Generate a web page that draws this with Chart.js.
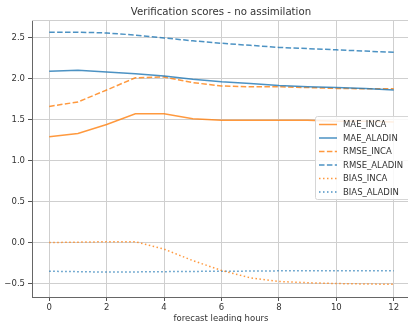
<!DOCTYPE html>
<html><head><meta charset="utf-8">
<script src="https://cdn.jsdelivr.net/npm/chart.js@4/dist/chart.umd.min.js"></script>
<style>
html,body{margin:0;padding:0;background:#fff;overflow:hidden;width:408px;height:322px;}
#wrap{width:412px;height:322px;}
</style></head><body>
<div id="wrap"><canvas id="c" width="412" height="322"></canvas></div>
<script>
const hours = [0,1,2,3,4,5,6,7,8,9,10,11,12];
const maeInca    = [1.29,1.33,1.44,1.57,1.57,1.51,1.49,1.49,1.49,1.49,1.48,1.48,1.47];
const maeAladin  = [2.09,2.10,2.08,2.06,2.03,1.99,1.96,1.94,1.915,1.90,1.89,1.88,1.86];
const rmseInca   = [1.66,1.715,1.86,2.01,2.02,1.95,1.91,1.90,1.90,1.89,1.88,1.875,1.875];
const rmseAladin = [2.566,2.566,2.556,2.53,2.495,2.46,2.43,2.405,2.38,2.365,2.35,2.335,2.32];
const biasInca   = [0.0,0.005,0.01,0.01,-0.08,-0.22,-0.34,-0.43,-0.475,-0.49,-0.50,-0.505,-0.51];
const biasAladin = [-0.35,-0.355,-0.36,-0.358,-0.355,-0.352,-0.35,-0.348,-0.345,-0.345,-0.345,-0.345,-0.345];
const seriesNames = ['MAE_INCA','MAE_ALADIN','RMSE_INCA','RMSE_ALADIN','BIAS_INCA','BIAS_ALADIN'];
const xTicks = [0,2,4,6,8,10,12];
const yTicks = [-0.5,0.0,0.5,1.0,1.5,2.0,2.5];
const titleText = 'Verification scores - no assimilation';
const xLabel = 'forecast leading hours';

const ORANGE = 'rgba(255,127,14,0.8)', BLUE = 'rgba(31,119,180,0.8)';
const DASH = [5.5,2.4], DOT = [1.5,2.5];
const allSeries = [maeInca, maeAladin, rmseInca, rmseAladin, biasInca, biasAladin];
const styles = [
  {c:ORANGE,d:[]},{c:BLUE,d:[]},{c:ORANGE,d:DASH},{c:BLUE,d:DASH},{c:ORANGE,d:DOT},{c:BLUE,d:DOT}
];
const datasets = allSeries.map((arr,i)=>({
  label: seriesNames[i],
  data: hours.map((h,j)=>({x:h,y:arr[j]})),
  borderColor: styles[i].c,
  backgroundColor: styles[i].c,
  borderDash: styles[i].d,
  borderWidth: 1.5,
  pointRadius: 0,
  tension: 0,
  fill: false
}));

const FONT = 'DejaVu Sans';
const TXT = '#333';

const deco = {
  id:'deco',
  afterDatasetsDraw(chart){
    const ctx = chart.ctx, a = chart.chartArea;
    ctx.save();
    ctx.strokeStyle = '#cfcfcf'; ctx.lineWidth = 1;
    ctx.beginPath(); ctx.moveTo(a.left, a.top+0.5); ctx.lineTo(a.right, a.top+0.5); ctx.stroke();
    const lx = 315.5, ly = 116.5, lw = 100, lh = 83;
    ctx.fillStyle = 'rgba(255,255,255,0.85)';
    ctx.strokeStyle = '#d6d6d6';
    ctx.beginPath();
    if (ctx.roundRect) ctx.roundRect(lx, ly, lw, lh, 2); else ctx.rect(lx,ly,lw,lh);
    ctx.fill(); ctx.stroke();
    ctx.font = '8.5px "' + FONT + '"';
    ctx.textBaseline = 'middle'; ctx.textAlign = 'left';
    chart.data.datasets.forEach((ds,i)=>{
      const y = 124.5 + i*13.5;
      ctx.strokeStyle = ds.borderColor; ctx.lineWidth = 1.5;
      ctx.setLineDash(ds.borderDash);
      ctx.beginPath(); ctx.moveTo(319, y); ctx.lineTo(337, y); ctx.stroke();
      ctx.setLineDash([]);
      ctx.fillStyle = TXT;
      ctx.fillText(ds.label, 343, y+0.5);
    });
    ctx.fillStyle = TXT; ctx.textAlign = 'center';
    ctx.font = '10.2px "' + FONT + '"';
    ctx.textBaseline = 'alphabetic';
    ctx.fillText(titleText, 221, 15);
    ctx.font = '8.5px "' + FONT + '"';
    ctx.fillText(xLabel, 221, 321);
    ctx.restore();
  }
};

new Chart(document.getElementById('c'), {
  type:'line',
  data:{datasets},
  options:{
    responsive:false, animation:false,
    layout:{padding:{left:0,right:1,top:20,bottom:0}},
    plugins:{legend:{display:false},title:{display:false},tooltip:{enabled:false}},
    scales:{
      x:{
        type:'linear', min:-0.6, max:12.6,
        afterBuildTicks:s=>{s.ticks = xTicks.map(v=>({value:v}));},
        afterFit:s=>{s.height = 25;},
        grid:{color:'#cfcfcf', lineWidth:1, tickLength:4, tickColor:'#555'},
        border:{color:'#666', width:1},
        ticks:{color:TXT, font:{family:FONT,size:8.5}, padding:2, maxRotation:0, callback:v=>String(v)}
      },
      y:{
        type:'linear', min:-0.664, max:2.714,
        afterBuildTicks:s=>{s.ticks = yTicks.map(v=>({value:v}));},
        afterFit:s=>{s.width = 32;},
        grid:{color:'#cfcfcf', lineWidth:1, tickLength:4, tickColor:'#555'},
        border:{color:'#666', width:1},
        ticks:{color:TXT, font:{family:FONT,size:8.5}, padding:3,
          callback:v=>(v<0?'\u2212':'')+Math.abs(v).toFixed(1)}
      }
    }
  },
  plugins:[deco]
});
</script></body></html>
